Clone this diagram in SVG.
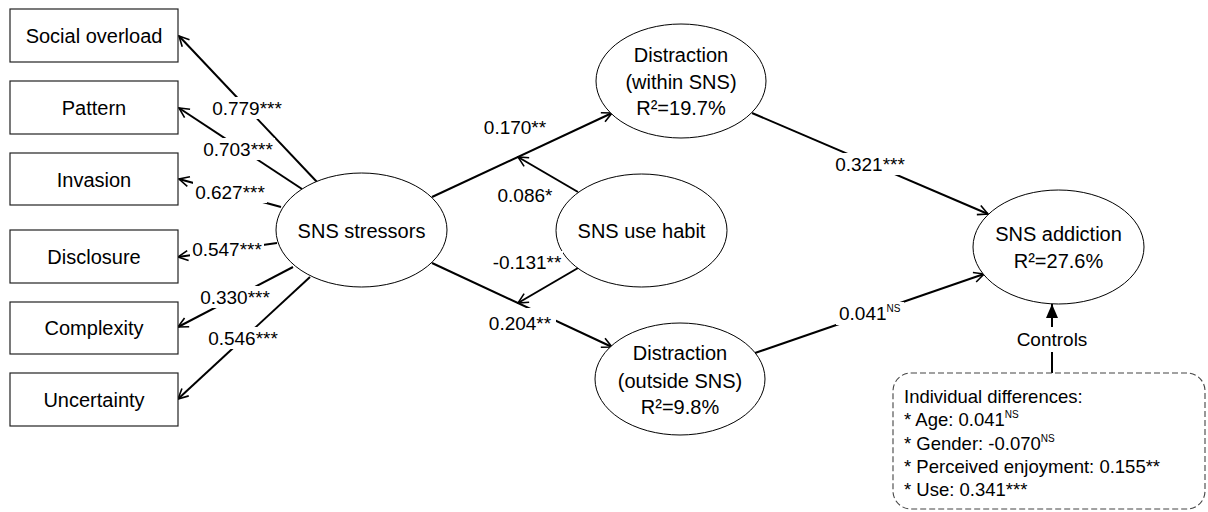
<svg xmlns="http://www.w3.org/2000/svg" width="1208" height="512" viewBox="0 0 1208 512">
<style>
text{font-family:"Liberation Sans",Arial,sans-serif;fill:#000}
.n{font-size:20px;text-anchor:middle}
.l{font-size:19px;text-anchor:middle}
.ls{font-size:19px}
.c{font-size:18.5px}
.sup{font-size:10px}
.box{fill:#fff;stroke:#222;stroke-width:1.2}
.ell{fill:#fff;stroke:#000;stroke-width:1}
.con{stroke:#000;stroke-width:2;fill:none;marker-end:url(#oa)}
.ctl{stroke:#000;stroke-width:2;fill:none}
.bg{fill:#fff}
.dash{fill:none;stroke:#444;stroke-width:1.1;stroke-dasharray:6 3}
</style>
<defs>
<marker id="oa" viewBox="0 0 12 12" refX="11" refY="6" markerWidth="12" markerHeight="12" markerUnits="userSpaceOnUse" orient="auto">
<path d="M1,1 L11,6 L1,11" fill="none" stroke="#000" stroke-width="1.6"/>
</marker>
<marker id="fa" viewBox="0 0 14 12" refX="14" refY="6" markerWidth="14" markerHeight="12" markerUnits="userSpaceOnUse" orient="auto">
<path d="M0,0 L14,6 L0,12 z" fill="#000"/>
</marker>
</defs>
<rect width="1208" height="512" fill="#fff"/>

<g id="connectors">
<line class="con" x1="317" y1="182" x2="179" y2="36"/>
<line class="con" x1="302" y1="189" x2="179" y2="108"/>
<line class="con" x1="281" y1="207" x2="179" y2="179"/>
<line class="con" x1="277" y1="243" x2="178" y2="257"/>
<line class="con" x1="293" y1="267" x2="178" y2="327"/>
<line class="con" x1="310" y1="277" x2="178" y2="399"/>
<line class="con" x1="432" y1="197" x2="612" y2="113"/>
<line class="con" x1="578" y1="192" x2="518" y2="157"/>
<line class="con" x1="432" y1="263" x2="612" y2="347"/>
<line class="con" x1="578" y1="268" x2="518" y2="303"/>
<line class="con" x1="752" y1="113" x2="988" y2="214"/>
<line class="con" x1="755" y1="353" x2="984" y2="274"/>
<line class="ctl" x1="1052" y1="327" x2="1052" y2="304" marker-end="url(#fa)"/>
<line class="ctl" x1="1052" y1="352" x2="1052" y2="373"/>
</g>

<g id="social-overload"><rect class="box" x="10" y="9" width="168" height="53"/><text class="n" x="94" y="43">Social overload</text></g>
<g id="pattern"><rect class="box" x="10" y="81" width="168" height="53"/><text class="n" x="94" y="114.5">Pattern</text></g>
<g id="invasion"><rect class="box" x="10" y="153" width="168" height="52"/><text class="n" x="94" y="187">Invasion</text></g>
<g id="disclosure"><rect class="box" x="10" y="230" width="168" height="53"/><text class="n" x="94" y="264">Disclosure</text></g>
<g id="complexity"><rect class="box" x="10" y="302" width="168" height="52"/><text class="n" x="94" y="335">Complexity</text></g>
<g id="uncertainty"><rect class="box" x="10" y="373" width="168" height="53"/><text class="n" x="94" y="407">Uncertainty</text></g>

<g id="sns-stressors"><ellipse class="ell" cx="361.5" cy="230" rx="85.5" ry="57"/><text class="n" x="361.5" y="238">SNS stressors</text></g>
<g id="sns-use-habit"><ellipse class="ell" cx="641.5" cy="230.5" rx="85.5" ry="56.5"/><text class="n" x="641.5" y="238">SNS use habit</text></g>
<g id="distraction-within"><ellipse class="ell" cx="681" cy="81" rx="85" ry="57"/>
<text class="n" x="681" y="62">Distraction</text><text class="n" x="681" y="89">(within SNS)</text><text class="n" x="681" y="115">R²=19.7%</text></g>
<g id="distraction-outside"><ellipse class="ell" cx="680" cy="379" rx="85" ry="56"/>
<text class="n" x="680" y="360">Distraction</text><text class="n" x="680" y="388">(outside SNS)</text><text class="n" x="680" y="414">R²=9.8%</text></g>
<g id="sns-addiction"><ellipse class="ell" cx="1058.5" cy="247" rx="85.5" ry="57"/>
<text class="n" x="1058.5" y="241">SNS addiction</text><text class="n" x="1058.5" y="268">R²=27.6%</text></g>

<g id="controls-label"><text class="n" x="1052" y="346" style="font-size:19px">Controls</text></g>
<g id="individual-differences">
<rect class="dash" x="893" y="373" width="312" height="136" rx="18"/>
<text class="c" x="904" y="403">Individual differences:</text>
<text class="c" x="904" y="426">* Age: 0.041<tspan class="sup" dy="-8">NS</tspan></text>
<text class="c" x="904" y="450">* Gender: -0.070<tspan class="sup" dy="-8">NS</tspan></text>
<text class="c" x="904" y="473">* Perceived enjoyment: 0.155**</text>
<text class="c" x="904" y="496">* Use: 0.341***</text>
</g>

<g id="labels">
<rect class="bg" x="210" y="97" width="74" height="22"/><text class="l" x="247" y="115">0.779***</text>
<rect class="bg" x="201" y="138" width="74" height="22"/><text class="l" x="238" y="156">0.703***</text>
<rect class="bg" x="193" y="181" width="74" height="22"/><text class="l" x="230" y="199">0.627***</text>
<rect class="bg" x="190" y="238" width="74" height="22"/><text class="l" x="227" y="256">0.547***</text>
<rect class="bg" x="198" y="286" width="74" height="22"/><text class="l" x="235" y="304">0.330***</text>
<rect class="bg" x="206" y="327" width="74" height="22"/><text class="l" x="243" y="345">0.546***</text>
<text class="l" x="515" y="134">0.170**</text>
<text class="l" x="525" y="202">0.086*</text>
<rect class="bg" x="491" y="251" width="72" height="22"/><text class="l" x="527" y="269">-0.131**</text>
<rect class="bg" x="486" y="308" width="70" height="25"/><text class="l" x="520" y="330">0.204**</text>
<rect class="bg" x="832" y="153" width="76" height="22"/><text class="l" x="870" y="171">0.321***</text>
<rect class="bg" x="836" y="302" width="68" height="23"/><text class="ls" x="839" y="320">0.041<tspan class="sup" dy="-8">NS</tspan></text>
</g>
</svg>
